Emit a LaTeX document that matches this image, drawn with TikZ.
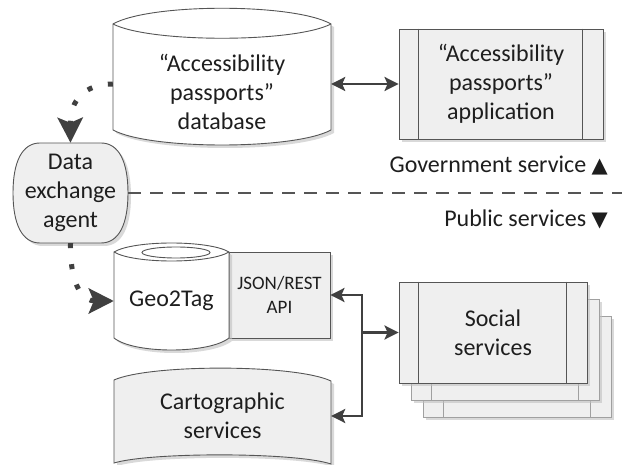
\documentclass[tikz,border=0pt]{standalone}
\usepackage{fontspec}
\setmainfont{Carlito}
\newfontfamily\symfont{DejaVu Sans}
\usepackage{tikz}
\usetikzlibrary{positioning,arrows.meta,shadows}

\definecolor{boxfill}{HTML}{EFEFEF}
\definecolor{linegray}{HTML}{555555}
\definecolor{backgray}{HTML}{A0A0A0}
\definecolor{arrowgray}{HTML}{404040}
\definecolor{txtgray}{HTML}{1E1E1E}

\tikzset{
	txt/.style={inner sep=0pt, align=center, text=txtgray, font=\fontsize{24}{29}\selectfont},
	shp/.style={draw=linegray, line width=0.9pt},
	shd/.style={drop shadow={shadow xshift=3pt, shadow yshift=-3pt, fill=black!25, opacity=0.6}},
	procbox/.style={txt, shp, shd, fill=boxfill},
	link/.style={draw=arrowgray, line width=2.6pt, {Stealth[length=14pt,width=14pt,inset=3pt]}-{Stealth[length=14pt,width=14pt,inset=3pt]}},
	flow/.style={draw=arrowgray, line width=5pt, dash pattern=on 5pt off 16pt, -{Stealth[length=25pt,width=25pt,inset=5pt]}},
	border/.style={draw=linegray, line width=1.3pt, dash pattern=on 13pt off 9pt}
}

\begin{document}
\begin{tikzpicture}[x=1pt,y=-1pt]
	\useasboundingbox (0,0) rectangle (622,465);
	%%%shapes
	%database
	\draw[shp, shd, fill=white] (113,24) .. controls (150,3) and (294,3) .. (331,24) -- (331,130) .. controls (294,150) and (150,150) .. (113,130) -- cycle;
	\draw[shp] (113,24) .. controls (150,43) and (294,43) .. (331,24);
	%agent
	\draw[shp, shd, fill=boxfill] (40,143) -- (101,143) .. controls (119,143) and (128,162) .. (128,193) .. controls (128,224) and (119,243) .. (101,243) -- (40,243) .. controls (22,243) and (13,224) .. (13,193) .. controls (13,162) and (22,143) .. (40,143) -- cycle;
	%api
	\node[procbox, minimum width=101pt, minimum height=86pt, font=\fontsize{19}{24}\selectfont] at (279.5,295) (api){JSON/REST\\API};
	%geo2tag
	\draw[shp, shd, fill=white] (114,252) .. controls (134,240) and (209,240) .. (229,252) -- (229,338) .. controls (209,354) and (134,354) .. (114,338) -- cycle;
	\draw[shp] (114,252) .. controls (134,264) and (209,264) .. (229,252);
	\draw[shp] (176,252.5) ellipse [x radius=34, y radius=5.5];
	%cartographic
	\draw[shp, shd, fill=boxfill] (114,380) .. controls (150,364) and (295,364) .. (331,381) -- (331,464) .. controls (295,452) and (150,452) .. (114,463) -- cycle;
	%social stack
	\draw[shp, draw=backgray, shd, fill=boxfill] (423,316) rectangle (611,417);
	\draw[shp, draw=backgray] (443,316) -- (443,417) (590,316) -- (590,417);
	\draw[shp, draw=backgray, shd, fill=boxfill] (411,299) rectangle (599,400);
	\draw[shp, draw=backgray] (431,299) -- (431,400) (578,299) -- (578,400);

	%%%nodes
	\node[txt, minimum width=218pt] at (222,92) (db){“Accessibility\\passports”\\database};
	\node[procbox, minimum width=204pt, minimum height=110pt] at (501,84) (app){“Accessibility\\passports”\\application};
	\node[txt, minimum width=115pt, minimum height=100pt] at (70.5,193) (agent){Data\\exchange\\agent};
	\node[txt, minimum width=115pt] at (171.5,301) (geo){Geo2Tag};
	\node[txt, minimum width=217pt] at (222.5,416) (carto){Cartographic\\services};
	\node[procbox, minimum width=188pt, minimum height=101pt] at (493,332.5) (soc){Social\\services};
	\node[txt, anchor=east] at (608,166) (gov){Government service {\symfont\fontsize{21}{24}\selectfont ▲}};
	\node[txt, anchor=east] at (608,219) (pub){Public services {\symfont\fontsize{21}{24}\selectfont ▼}};
	\coordinate (rend) at (622,193);
	\coordinate (jn) at (362,332.5);
	%inner bars
	\draw[shp] ([xshift=20pt]app.north west) -- ([xshift=20pt]app.south west);
	\draw[shp] ([xshift=-21pt]app.north east) -- ([xshift=-21pt]app.south east);
	\draw[shp] ([xshift=20pt]soc.north west) -- ([xshift=20pt]soc.south west);
	\draw[shp] ([xshift=-21pt]soc.north east) -- ([xshift=-21pt]soc.south east);

	%%%links
	\draw[link] (app.west -| db.east) -- (app.west);
	\draw[border] (agent.east) -- (rend);
	\draw[flow] ([yshift=8pt]db.west) .. controls (85,84) and (70,100) .. (agent.north);
	\draw[flow] (agent.south) .. controls (70,290) and (85,301) .. (geo.west);
	\draw[link] (api.east) -| (jn) |- (carto.east);
	\draw[link, {Stealth[length=14pt,width=14pt,inset=3pt]}-] (soc.west) -- (jn);
\end{tikzpicture}
\end{document}
